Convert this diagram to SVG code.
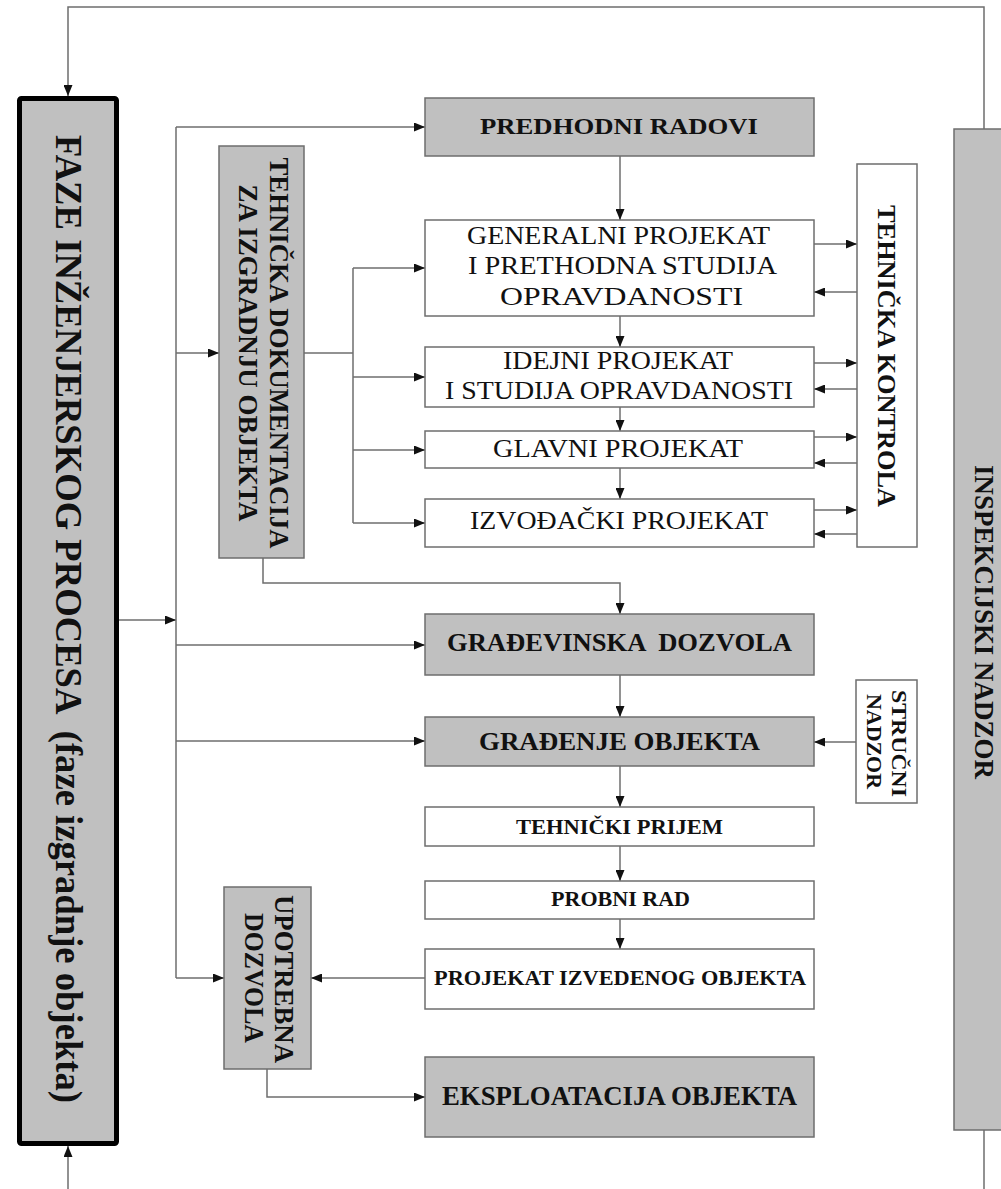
<svg xmlns="http://www.w3.org/2000/svg" width="1001" height="1189" viewBox="0 0 1001 1189">
<style>
.bg{fill:#ffffff}
.gbox{fill:#c0c0c0;stroke:#6e6e6e;stroke-width:1.5}
.wbox{fill:#ffffff;stroke:#6e6e6e;stroke-width:1.5}
.main{fill:#c0c0c0;stroke:#000000;stroke-width:5}
.t{font-family:"Liberation Serif","Times New Roman",serif;fill:#111111;text-anchor:middle}
.b{font-weight:bold}
.conn path{fill:none;stroke:#6e6e6e;stroke-width:1.5}
</style>
<defs>
<marker id="ah" markerUnits="userSpaceOnUse" markerWidth="11" markerHeight="9" refX="11" refY="4.5" orient="auto">
<path d="M0,0 L11,4.5 L0,9 z" fill="#111111"/>
</marker>
</defs>
<rect class="bg" x="0" y="0" width="1001" height="1189"/>

<g id="connectors" class="conn">
<path d="M984,129 V7 H68 V96" marker-end="url(#ah)"/>
<path d="M68,1189 V1146" marker-end="url(#ah)"/>
<path d="M984,1130 V1189"/>
<path d="M119,620 H176" marker-end="url(#ah)"/>
<path d="M176,127 V978"/>
<path d="M176,127 H425" marker-end="url(#ah)"/>
<path d="M176,353 H219" marker-end="url(#ah)"/>
<path d="M176,645 H425" marker-end="url(#ah)"/>
<path d="M176,741 H425" marker-end="url(#ah)"/>
<path d="M176,978 H224" marker-end="url(#ah)"/>
<path d="M304,353 H353"/>
<path d="M353,268 V523"/>
<path d="M353,268 H425" marker-end="url(#ah)"/>
<path d="M353,377 H425" marker-end="url(#ah)"/>
<path d="M353,450 H425" marker-end="url(#ah)"/>
<path d="M353,523 H425" marker-end="url(#ah)"/>
<path d="M263,558 V583 H620 V614" marker-end="url(#ah)"/>
<path d="M620,156 V220" marker-end="url(#ah)"/>
<path d="M620,316 V347" marker-end="url(#ah)"/>
<path d="M620,407 V431" marker-end="url(#ah)"/>
<path d="M620,468 V499" marker-end="url(#ah)"/>
<path d="M620,675 V717" marker-end="url(#ah)"/>
<path d="M620,766 V807" marker-end="url(#ah)"/>
<path d="M620,846 V881" marker-end="url(#ah)"/>
<path d="M620,919 V949" marker-end="url(#ah)"/>
<path d="M425,978 H311" marker-end="url(#ah)"/>
<path d="M267,1069 V1097 H425" marker-end="url(#ah)"/>
<path d="M856,742 H814" marker-end="url(#ah)"/>
<path d="M814,244 H857" marker-end="url(#ah)"/>
<path d="M857,292 H814" marker-end="url(#ah)"/>
<path d="M814,363 H857" marker-end="url(#ah)"/>
<path d="M857,389 H814" marker-end="url(#ah)"/>
<path d="M814,437 H857" marker-end="url(#ah)"/>
<path d="M857,463 H814" marker-end="url(#ah)"/>
<path d="M814,510 H857" marker-end="url(#ah)"/>
<path d="M857,534 H814" marker-end="url(#ah)"/>
</g>

<g id="faze">
<rect class="main" x="19.5" y="98.5" width="97" height="1045" rx="2"/>
<text class="t b" xml:space="preserve" font-size="37" textLength="968" lengthAdjust="spacingAndGlyphs" transform="translate(67.5,619) rotate(90)" x="0" y="12">FAZE INŽENJERSKOG PROCESA  (faze izgradnje objekta)</text>
</g>

<g id="inspekcijski-nadzor">
<rect class="gbox" x="954" y="129" width="60" height="1001"/>
<text class="t b" font-size="27" textLength="314" lengthAdjust="spacingAndGlyphs" transform="translate(984,622) rotate(90)" x="0" y="9">INSPEKCIJSKI NADZOR</text>
</g>

<g id="predhodni-radovi">
<rect class="gbox" x="425" y="98" width="389" height="58"/>
<text class="t b" font-size="24" textLength="278" lengthAdjust="spacingAndGlyphs" x="619" y="134">PREDHODNI RADOVI</text>
</g>

<g id="tehnicka-dokumentacija">
<rect class="gbox" x="219" y="146" width="85" height="412"/>
<g transform="translate(261.5,353) rotate(90)">
<text class="t b" font-size="26.5" textLength="391" lengthAdjust="spacingAndGlyphs" x="0" y="-8.5">TEHNIČKA DOKUMENTACIJA</text>
<text class="t b" font-size="26.5" textLength="337" lengthAdjust="spacingAndGlyphs" x="0" y="23">ZA IZGRADNJU OBJEKTA</text>
</g>
</g>

<g id="generalni-projekat">
<rect class="wbox" x="425" y="220" width="389" height="96"/>
<text class="t" font-size="26" textLength="303" lengthAdjust="spacingAndGlyphs" x="618.5" y="244">GENERALNI PROJEKAT</text>
<text class="t" font-size="26" textLength="309" lengthAdjust="spacingAndGlyphs" x="622.5" y="274">I PRETHODNA STUDIJA</text>
<text class="t" font-size="26" textLength="243" lengthAdjust="spacingAndGlyphs" x="621.5" y="305">OPRAVDANOSTI</text>
</g>

<g id="idejni-projekat">
<rect class="wbox" x="425" y="347" width="389" height="60"/>
<text class="t" font-size="26" textLength="230" lengthAdjust="spacingAndGlyphs" x="618" y="369">IDEJNI PROJEKAT</text>
<text class="t" font-size="26" textLength="348" lengthAdjust="spacingAndGlyphs" x="619" y="399">I STUDIJA OPRAVDANOSTI</text>
</g>

<g id="glavni-projekat">
<rect class="wbox" x="425" y="431" width="389" height="37"/>
<text class="t" font-size="26" textLength="250" lengthAdjust="spacingAndGlyphs" x="618" y="457">GLAVNI PROJEKAT</text>
</g>

<g id="izvodjacki-projekat">
<rect class="wbox" x="425" y="499" width="389" height="48"/>
<text class="t" font-size="26" textLength="298" lengthAdjust="spacingAndGlyphs" x="619" y="529">IZVOĐAČKI PROJEKAT</text>
</g>

<g id="tehnicka-kontrola">
<rect class="wbox" x="857" y="164" width="60" height="383"/>
<text class="t b" font-size="26" textLength="302" lengthAdjust="spacingAndGlyphs" transform="translate(887,356) rotate(90)" x="0" y="9">TEHNIČKA KONTROLA</text>
</g>

<g id="gradjevinska-dozvola">
<rect class="gbox" x="425" y="614" width="389" height="61"/>
<text class="t b" xml:space="preserve" font-size="25.5" textLength="345" lengthAdjust="spacingAndGlyphs" x="619.5" y="651">GRAĐEVINSKA  DOZVOLA</text>
</g>

<g id="gradjenje-objekta">
<rect class="gbox" x="425" y="717" width="389" height="49"/>
<text class="t b" font-size="25" textLength="281" lengthAdjust="spacingAndGlyphs" x="619.5" y="750">GRAĐENJE OBJEKTA</text>
</g>

<g id="strucni-nadzor">
<rect class="wbox" x="856" y="680" width="61" height="123"/>
<g transform="translate(887,742) rotate(90)">
<text class="t b" font-size="22" textLength="107" lengthAdjust="spacingAndGlyphs" x="1.5" y="-5">STRUČNI</text>
<text class="t b" font-size="22" textLength="95" lengthAdjust="spacingAndGlyphs" x="-0.5" y="20">NADZOR</text>
</g>
</g>

<g id="tehnicki-prijem">
<rect class="wbox" x="425" y="807" width="389" height="39"/>
<text class="t b" font-size="22" textLength="207" lengthAdjust="spacingAndGlyphs" x="619.5" y="834">TEHNIČKI PRIJEM</text>
</g>

<g id="probni-rad">
<rect class="wbox" x="425" y="881" width="389" height="38"/>
<text class="t b" font-size="22" textLength="139" lengthAdjust="spacingAndGlyphs" x="620.5" y="906">PROBNI RAD</text>
</g>

<g id="projekat-izvedenog-objekta">
<rect class="wbox" x="425" y="949" width="389" height="60"/>
<text class="t b" font-size="22" textLength="372" lengthAdjust="spacingAndGlyphs" x="620" y="985">PROJEKAT IZVEDENOG OBJEKTA</text>
</g>

<g id="upotrebna-dozvola">
<rect class="gbox" x="224" y="887" width="87" height="182"/>
<g transform="translate(267.5,978) rotate(90)">
<text class="t b" font-size="27" textLength="168" lengthAdjust="spacingAndGlyphs" x="1" y="-7.5">UPOTREBNA</text>
<text class="t b" font-size="27" textLength="130" lengthAdjust="spacingAndGlyphs" x="0" y="22.5">DOZVOLA</text>
</g>
</g>

<g id="eksploatacija-objekta">
<rect class="gbox" x="425" y="1057" width="389" height="80"/>
<text class="t b" font-size="27" textLength="355" lengthAdjust="spacingAndGlyphs" x="619.5" y="1105">EKSPLOATACIJA OBJEKTA</text>
</g>
</svg>
